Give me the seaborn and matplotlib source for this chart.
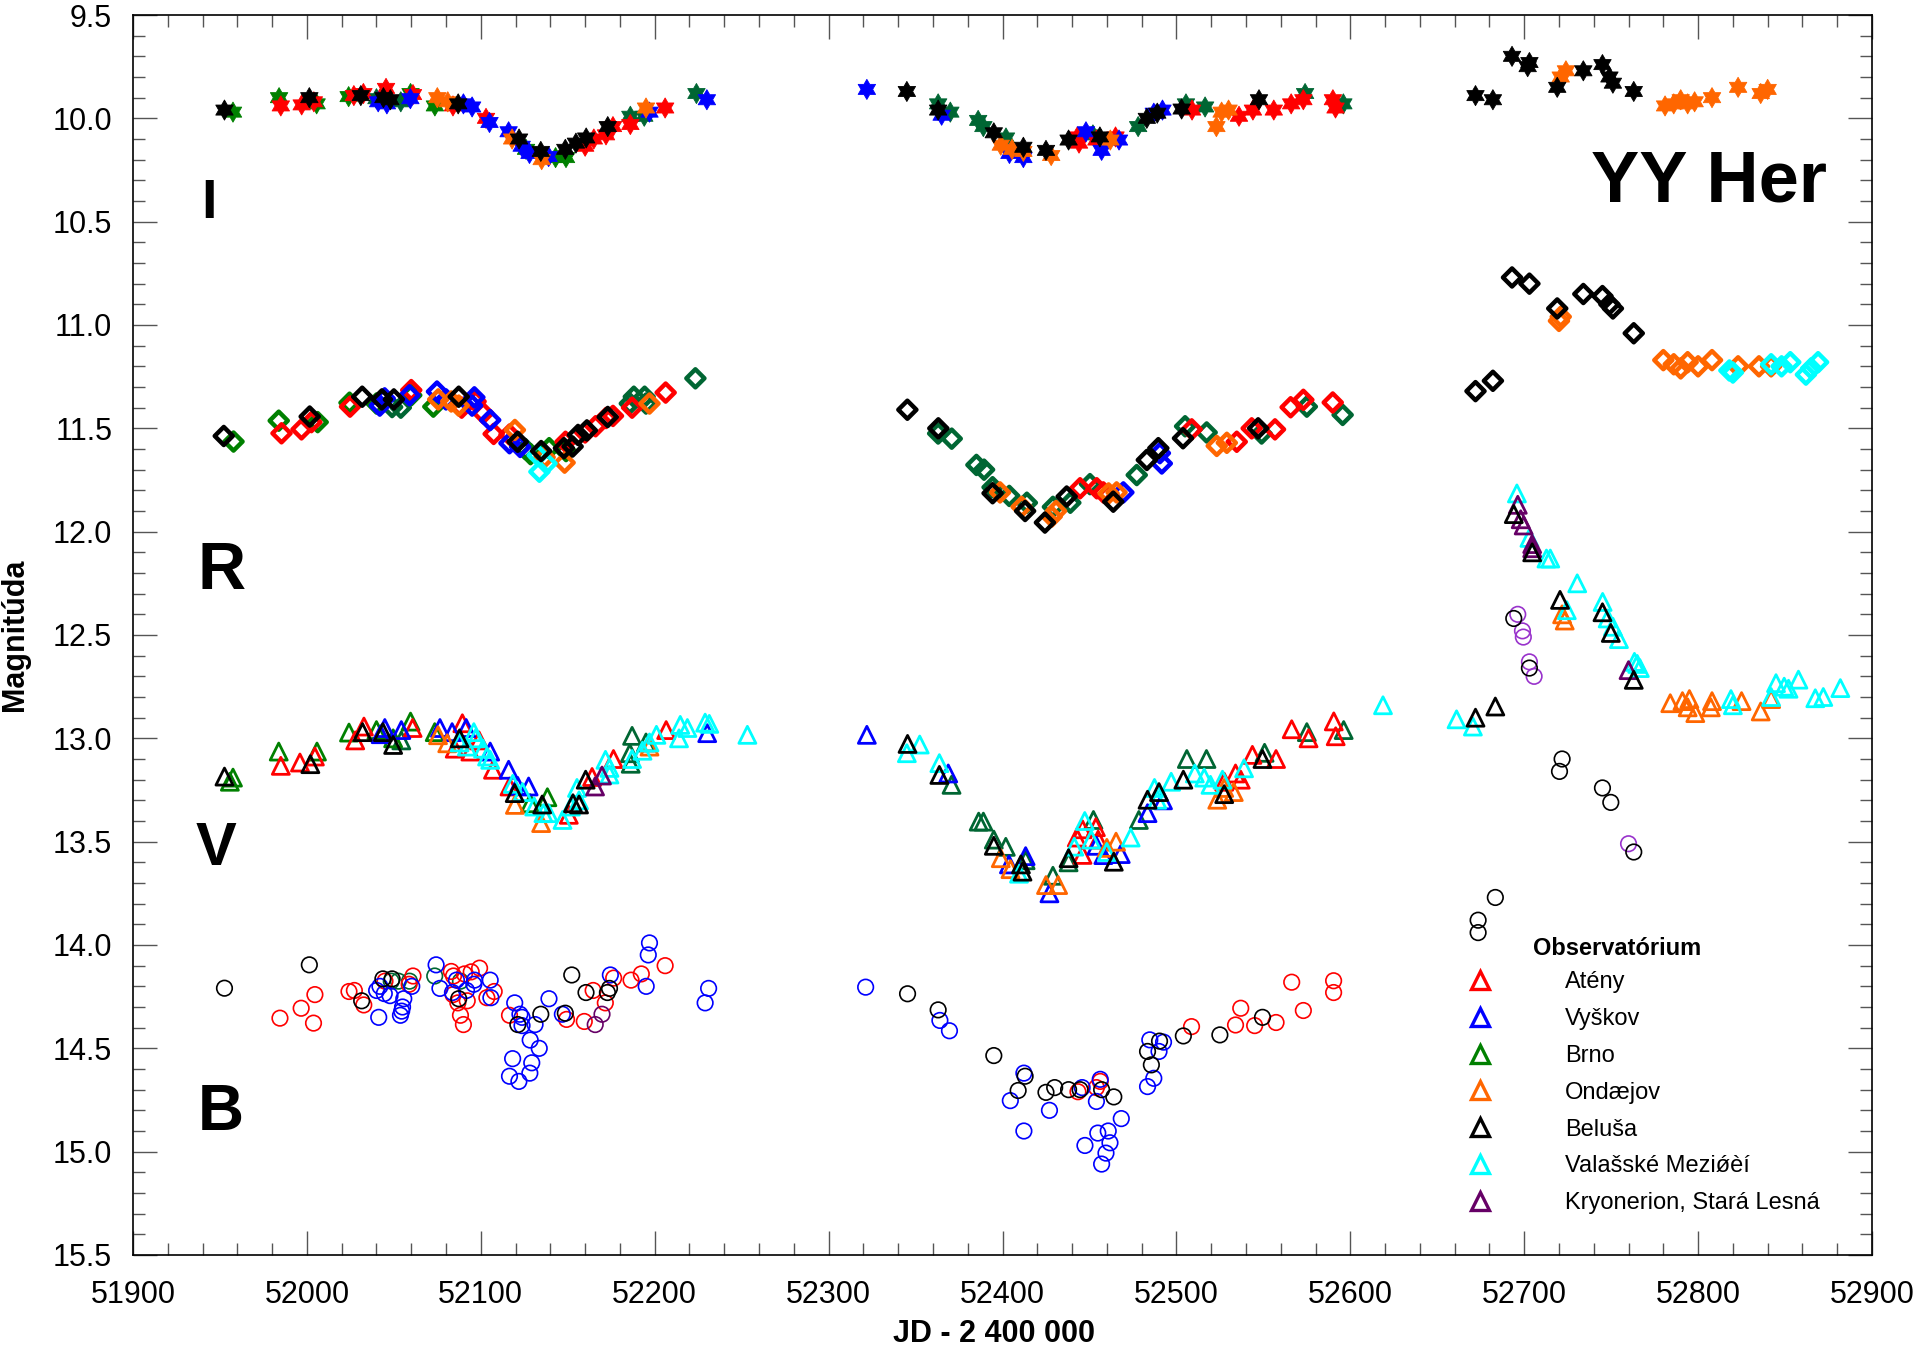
import numpy as np
import pandas as pd
import matplotlib
matplotlib.use("Agg")
import matplotlib.pyplot as plt
from matplotlib.path import Path
from matplotlib.lines import Line2D
from matplotlib.ticker import MultipleLocator, FormatStrFormatter
import seaborn as sns

I_ATENY = [(51985, 9.94), (51997, 9.935), (52004, 9.92), (52027, 9.89), (52032.5, 9.88), (52045.5, 9.855),
           (52061, 9.885), (52084, 9.94), (52103, 10.0), (52160, 10.135), (52165, 10.10), (52172, 10.08),
           (52176, 10.04), (52186, 10.03), (52206, 9.95),
           (52443, 10.09), (52444, 10.12), (52454, 10.105), (52465, 10.09), (52509, 9.96), (52536, 9.99),
           (52544, 9.96), (52556, 9.96), (52566, 9.93), (52573, 9.91), (52590, 9.91), (52591.5, 9.95)]
I_VYSKOV = [(52041, 9.92), (52046, 9.93), (52059.5, 9.905), (52090, 9.93), (52095, 9.945), (52105, 10.02),
            (52116, 10.065), (52123.5, 10.135), (52128, 10.17), (52139, 10.185), (52197, 9.97), (52230, 9.91),
            (52322, 9.86), (52365, 9.985), (52404, 10.17), (52412, 10.19), (52448, 10.065), (52457, 10.155),
            (52467, 10.105), (52487, 9.975), (52492, 9.96)]
I_BRNO = [(51957.5, 9.97), (51984, 9.90), (52005.6, 9.93), (52024, 9.895), (52059.6, 9.88), (52073.6, 9.94),
          (52126, 10.15), (52143, 10.19), (52149, 10.19)]
I_BRNO2 = [(52040, 9.905), (52054, 9.92), (52186, 9.99), (52194, 9.99), (52224, 9.88),
           (52363, 9.93), (52370, 9.97), (52386, 10.01), (52389, 10.04), (52402, 10.095), (52452, 10.08),
           (52478, 10.04), (52505.5, 9.93), (52516.5, 9.945), (52574, 9.88), (52596, 9.93)]
I_ONDREJOV = [(52075, 9.90), (52081, 9.92), (52118, 10.10), (52135, 10.20), (52195, 9.95),
              (52399, 10.13), (52405.5, 10.15), (52412, 10.16), (52428, 10.18), (52462, 10.105), (52523, 10.04),
              (52526, 9.97), (52530, 9.96),
              (52721, 9.80), (52724, 9.77), (52781, 9.94), (52786, 9.93), (52790, 9.91), (52794, 9.93),
              (52798, 9.92), (52808, 9.90), (52823, 9.85), (52836, 9.88), (52840, 9.86)]
I_BELUSA = [(51952.6, 9.96), (52001.4, 9.90), (52031, 9.89), (52044, 9.90), (52048, 9.91), (52087, 9.93),
            (52122, 10.10), (52134.5, 10.16), (52148.6, 10.15), (52154.7, 10.12), (52160.6, 10.095), (52173, 10.04),
            (52345, 9.87), (52363, 9.96), (52395, 10.07), (52412, 10.14), (52425, 10.155), (52438, 10.105),
            (52456, 10.09), (52483, 10.0), (52489, 9.975), (52503, 9.955), (52547.5, 9.91),
            (52672, 9.89), (52682, 9.91), (52693, 9.70), (52703, 9.73), (52702, 9.75), (52719, 9.85),
            (52734, 9.77), (52745, 9.74), (52749, 9.80), (52751, 9.83), (52763, 9.87)]

R_ATENY = [(51985.4, 11.524), (51996.9, 11.505), (52002.6, 11.47), (52024.8, 11.395), (52060, 11.315),
           (52089, 11.40), (52097, 11.37), (52101.4, 11.427), (52107.4, 11.527), (52116.5, 11.53),
           (52148.7, 11.565), (52160, 11.52), (52166, 11.49), (52172, 11.45), (52176, 11.44), (52187, 11.40),
           (52206.3, 11.327),
           (52444.6, 11.79), (52454.2, 11.79), (52458, 11.81), (52508.8, 11.505), (52534.7, 11.565),
           (52543.3, 11.50), (52556.7, 11.505), (52565.7, 11.398), (52573, 11.362), (52589.9, 11.375)]
R_VYSKOV = [(52041.9, 11.39), (52044.7, 11.355), (52059, 11.34), (52074.8, 11.322), (52080, 11.36),
            (52096.3, 11.35), (52095, 11.39), (52105.4, 11.46), (52116.5, 11.572), (52122.6, 11.59),
            (52469.5, 11.81), (52491.6, 11.67), (52490.5, 11.62)]
R_BRNO = [(51957.8, 11.564), (51983.8, 11.463), (52006.2, 11.47), (52024.5, 11.376), (52040, 11.38),
          (52060, 11.34), (52072.7, 11.395), (52128.6, 11.625), (52139.3, 11.596), (52149, 11.61)]
R_BRNO2 = [(52049, 11.397), (52054, 11.40), (52125.6, 11.60), (52185.7, 11.38), (52188, 11.347),
           (52194.2, 11.347), (52195, 11.38), (52223.4, 11.258),
           (52363, 11.525), (52370.8, 11.55), (52385, 11.677), (52389.4, 11.70), (52394.3, 11.785),
           (52403.9, 11.827), (52414, 11.86), (52429, 11.88), (52439, 11.86), (52450.3, 11.77),
           (52477.2, 11.726), (52505, 11.49), (52517.4, 11.52), (52549, 11.525), (52575, 11.395), (52595.6, 11.435)]
R_ONDREJOV = [(52075.5, 11.36), (52083, 11.37), (52087.3, 11.39), (52119.6, 11.508), (52136.7, 11.64),
              (52148.2, 11.666), (52197, 11.38),
              (52398.6, 11.81), (52411, 11.88), (52428.3, 11.927), (52430.8, 11.90), (52461, 11.815),
              (52465.6, 11.81), (52523.2, 11.585), (52529, 11.57),
              (52720, 10.98), (52721, 10.96), (52780, 11.17), (52786, 11.19), (52790, 11.21), (52794, 11.18),
              (52800, 11.20), (52808, 11.17), (52823, 11.20), (52835, 11.20), (52842, 11.20)]
R_BELUSA = [(51952.2, 11.537), (52001.6, 11.443), (52031.8, 11.347), (52043.1, 11.36), (52050, 11.36),
            (52087.3, 11.347), (52121.2, 11.565), (52134.7, 11.61), (52147.8, 11.596), (52152.8, 11.588),
            (52155.9, 11.532), (52161, 11.51), (52173, 11.445),
            (52345.3, 11.41), (52363.1, 11.50), (52394.3, 11.814), (52413, 11.90), (52424.4, 11.956),
            (52436.9, 11.83), (52463.7, 11.855), (52483, 11.653), (52489.6, 11.596), (52503.8, 11.548), (52547, 11.50),
            (52672, 11.32), (52682, 11.27), (52693, 10.77), (52703, 10.80), (52719, 10.92), (52734, 10.85),
            (52745, 10.86), (52749, 10.90), (52751, 10.92), (52763, 11.04)]
R_VALMEZ = [(52132.7, 11.63), (52133.7, 11.71), (52137.8, 11.67),
            (52818, 11.22), (52820, 11.23), (52842, 11.19), (52848, 11.20), (52853, 11.18), (52862, 11.24),
            (52865, 11.21), (52869, 11.18)]

V_ATENY = [(51985, 13.133), (51996, 13.117), (52004.6, 13.088), (52027.8, 13.01), (52032.8, 12.943),
           (52060.8, 12.95), (52085, 13.05), (52089.4, 12.927), (52094, 13.064), (52099, 13.01), (52107, 13.152),
           (52116.5, 13.233), (52150.6, 13.37), (52164, 13.187), (52176.3, 13.10), (52206.6, 12.96),
           (52442.7, 13.48), (52446, 13.44), (52446, 13.564), (52453.7, 13.43), (52455, 13.49), (52527.5, 13.21),
           (52534, 13.17), (52537, 13.20), (52543.7, 13.08), (52557.3, 13.10), (52566.3, 12.956), (52576, 13.0),
           (52590.5, 12.918), (52591.6, 12.99)]
V_VYSKOV = [(52042.4, 12.98), (52044.8, 12.95), (52054.3, 12.96), (52076.5, 12.95), (52083.5, 12.97),
            (52091.6, 12.95), (52105.4, 13.064), (52116, 13.152), (52121.2, 13.23), (52127.5, 13.233),
            (52230.2, 12.975),
            (52322, 12.983), (52368.8, 13.17), (52403.7, 13.61), (52413.3, 13.57), (52427, 13.75), (52454, 13.52),
            (52458, 13.565), (52468, 13.56), (52483.4, 13.362), (52492.3, 13.30)]
V_BRNO = [(51957.5, 13.19), (51955.7, 13.21), (51983.8, 13.064), (52005.8, 13.064), (52024.2, 12.972),
          (52040, 12.96), (52049.6, 13.0), (52059.6, 12.919), (52073.5, 12.97), (52128.4, 13.314), (52138.3, 13.285)]
V_BRNO2 = [(52054.3, 13.01), (52185.7, 13.072), (52186.2, 13.123), (52187, 12.988), (52195, 13.02),
           (52370.7, 13.225), (52386.3, 13.403), (52389, 13.403), (52395, 13.49), (52401.9, 13.525),
           (52413.3, 13.59), (52429, 13.665), (52438, 13.60), (52452.3, 13.395), (52478.4, 13.395), (52506, 13.10),
           (52517.3, 13.10), (52550.7, 13.07), (52575, 12.97), (52596.2, 12.96)]
V_ONDREJOV = [(52075.4, 12.985), (52080.7, 13.024), (52119.6, 13.322), (52134.7, 13.41), (52197, 13.04),
              (52399, 13.58), (52404.6, 13.633), (52425, 13.71), (52432, 13.71), (52460, 13.53), (52465.3, 13.50),
              (52523.5, 13.297), (52527.5, 13.24), (52533, 13.26),
              (52721.8, 12.40), (52723.3, 12.43), (52784, 12.83), (52791, 12.82), (52794, 12.85), (52795, 12.81),
              (52798.4, 12.878), (52807.3, 12.85), (52808, 12.82), (52825, 12.82), (52836, 12.87), (52842, 12.81)]
V_BELUSA = [(51952.6, 13.185), (52002, 13.125), (52032, 12.97), (52043.7, 12.97), (52049.6, 13.032),
            (52087.8, 13.0), (52119.5, 13.265), (52135.3, 13.32), (52153, 13.314), (52156.5, 13.32), (52160.3, 13.20),
            (52345.4, 13.027), (52363.7, 13.177), (52395, 13.52), (52410.6, 13.61), (52411.5, 13.645),
            (52438, 13.58), (52464, 13.597), (52483.4, 13.297), (52490, 13.26), (52504, 13.20), (52527.5, 13.27),
            (52549.5, 13.10),
            (52672, 12.90), (52683.4, 12.846), (52694, 11.915), (52704.6, 12.10), (52720.6, 12.33), (52745, 12.39),
            (52749.8, 12.49), (52763, 12.717)]
V_VALMEZ = [(52087.8, 13.02), (52092, 13.04), (52096, 12.97), (52097, 13.0), (52101.3, 13.05), (52103.6, 13.088),
            (52105.4, 13.104), (52118.4, 13.22), (52124, 13.26), (52130.7, 13.33), (52136, 13.362), (52139, 13.362),
            (52147, 13.395), (52151.8, 13.33), (52155.3, 13.24), (52156.5, 13.30), (52171.7, 13.104),
            (52174, 13.143), (52174, 13.175), (52187, 13.10), (52193, 13.06), (52197, 13.02), (52201, 12.983),
            (52214, 13.00), (52214.7, 12.935), (52218.8, 12.95), (52229, 12.924), (52231.4, 12.93), (52253.3, 12.983),
            (52345, 13.072), (52352.4, 13.03), (52363.7, 13.12), (52409.5, 13.655), (52441.3, 13.524),
            (52447.3, 13.40), (52451, 13.49), (52460, 13.55), (52473.7, 13.48), (52487.4, 13.24), (52489, 13.297),
            (52497, 13.21), (52510.6, 13.17), (52516, 13.19), (52519.6, 13.225), (52526.5, 13.20), (52538.9, 13.145),
            (52618.8, 12.84),
            (52661.1, 12.908), (52670.5, 12.943), (52695.8, 11.815), (52703, 12.03), (52712.8, 12.13),
            (52715, 12.13), (52730.5, 12.25), (52724.5, 12.38), (52745.1, 12.34), (52748, 12.42), (52751, 12.46),
            (52754.5, 12.52), (52763.4, 12.63), (52766.5, 12.66), (52765, 12.64), (52818.9, 12.81), (52820, 12.84),
            (52842, 12.80), (52844.8, 12.733), (52849.5, 12.75), (52852, 12.76), (52857.7, 12.716),
            (52867.4, 12.806), (52872, 12.80), (52881.8, 12.757)]
V_KRYONERION = [(52165.7, 13.233), (52169.7, 13.18), (52696.3, 11.87), (52698, 11.94), (52699.7, 11.97),
                (52704.6, 12.06), (52704.6, 12.08), (52760, 12.67)]

B_ATENY = [(51984.5, 14.354), (51996.7, 14.306), (52003.8, 14.378), (52004.6, 14.24), (52024.2, 14.225),
           (52027.3, 14.22), (52032.7, 14.29), (52044.9, 14.175), (52061, 14.15), (52058.8, 14.19), (52083, 14.128),
           (52084.3, 14.15), (52084, 14.24), (52086.8, 14.28), (52088.3, 14.34), (52090, 14.385), (52090.6, 14.14),
           (52092.2, 14.27), (52094.5, 14.13), (52099.3, 14.112), (52103.5, 14.255), (52107.7, 14.225),
           (52116.5, 14.34), (52149.3, 14.36), (52159.5, 14.37), (52164.6, 14.22), (52171.6, 14.28),
           (52176.4, 14.16), (52186.4, 14.17), (52192.3, 14.14), (52206, 14.10),
           (52443.4, 14.71), (52456.2, 14.66), (52454, 14.69), (52508.7, 14.395), (52534, 14.387),
           (52537, 14.306), (52545, 14.39), (52557.3, 14.375), (52566.3, 14.18), (52573, 14.317),
           (52590.4, 14.173), (52590.4, 14.23)]
B_VYSKOV = [(52040.1, 14.22), (52041.3, 14.35), (52042, 14.20), (52044.5, 14.235), (52047.8, 14.245),
            (52053.8, 14.34), (52054.5, 14.32), (52055, 14.30), (52055.7, 14.26), (52060.3, 14.2), (52074.3, 14.096),
            (52076.5, 14.21), (52083.7, 14.23), (52086, 14.17), (52091.8, 14.22), (52096, 14.19), (52096.4, 14.17),
            (52105.4, 14.17), (52105.8, 14.255), (52116.5, 14.635), (52118.3, 14.55), (52119.5, 14.28),
            (52121.9, 14.66), (52122.5, 14.335), (52123.7, 14.35), (52123.7, 14.39), (52128.2, 14.62),
            (52128.4, 14.46), (52129.3, 14.57), (52131.2, 14.385), (52133.6, 14.50), (52139.2, 14.26),
            (52146.9, 14.335), (52174.5, 14.145), (52195.1, 14.2), (52196.3, 14.048), (52197, 13.99),
            (52229, 14.28), (52231, 14.21),
            (52321.3, 14.204), (52364, 14.365), (52369.5, 14.415), (52404.5, 14.753), (52412.3, 14.62),
            (52412.3, 14.90), (52427, 14.80), (52445.8, 14.69), (52447.4, 14.97), (52454, 14.757), (52454.8, 14.91),
            (52456.2, 14.65), (52457, 15.06), (52459.5, 15.007), (52460.8, 14.90), (52461.8, 14.957),
            (52468.3, 14.84), (52483.4, 14.685), (52484.7, 14.459), (52487, 14.645), (52490, 14.515), (52492.6, 14.47)]
B_BRNO2 = [(52048.5, 14.175), (52052.6, 14.175), (52059, 14.175), (52073.5, 14.15), (52088.3, 14.175)]
B_BELUSA = [(51952.6, 14.209), (52001.4, 14.096), (52031.5, 14.27), (52043.7, 14.164), (52049, 14.164),
            (52087.3, 14.26), (52121.3, 14.385), (52134.5, 14.335), (52148.6, 14.33), (52152.3, 14.145),
            (52160.5, 14.23), (52172.8, 14.23), (52174, 14.21),
            (52345.4, 14.236), (52363, 14.314), (52395, 14.535), (52409, 14.704), (52413, 14.635), (52425, 14.713),
            (52430, 14.69), (52438, 14.70), (52444.6, 14.70), (52457, 14.70), (52464, 14.735), (52483.4, 14.515),
            (52485.6, 14.58), (52490.3, 14.465), (52504, 14.44), (52525, 14.435), (52549.5, 14.35),
            (52673.5, 13.88), (52673.5, 13.94), (52683.4, 13.77), (52694, 12.42), (52703, 12.66),
            (52721.8, 13.10), (52720.3, 13.16), (52745, 13.24), (52749.8, 13.31), (52763, 13.55)]
B_KRYONERION = [(52165.8, 14.385), (52169.7, 14.335)]
B_VIOLET = [(52696.3, 12.40), (52699, 12.48), (52699.5, 12.51), (52703, 12.63), (52705.7, 12.70), (52760, 13.51)]

LEGEND_NAMES = ["Atény", "Vyškov", "Brno", "Ondæjov", "Beluša", "Valašské Meziǿèí", "Kryonerion, Stará Lesná"]

palette = {
    "Atény": "#ff0000",
    "Vyškov": "#0000ff",
    "Brno": "#008000",
    "Brno2": "#006633",
    "Ondæjov": "#ff6600",
    "Beluša": "#000000",
    "Valašské Meziǿèí": "#00ffff",
    "Kryonerion, Stará Lesná": "#660066",
    "violet": "#9933cc",
}

# drawing order inside each band (later on top)
series = {
    "I": [("Brno2", I_BRNO2), ("Brno", I_BRNO), ("Atény", I_ATENY), ("Vyškov", I_VYSKOV),
          ("Ondæjov", I_ONDREJOV), ("Beluša", I_BELUSA)],
    "R": [("Brno2", R_BRNO2), ("Brno", R_BRNO), ("Atény", R_ATENY), ("Vyškov", R_VYSKOV),
          ("Ondæjov", R_ONDREJOV), ("Valašské Meziǿèí", R_VALMEZ), ("Beluša", R_BELUSA)],
    "V": [("Brno2", V_BRNO2), ("Brno", V_BRNO), ("Atény", V_ATENY), ("Vyškov", V_VYSKOV),
          ("Ondæjov", V_ONDREJOV), ("Valašské Meziǿèí", V_VALMEZ), ("Kryonerion, Stará Lesná", V_KRYONERION),
          ("Beluša", V_BELUSA)],
    "B": [("Brno2", B_BRNO2), ("Atény", B_ATENY), ("Vyškov", B_VYSKOV), ("Kryonerion, Stará Lesná", B_KRYONERION),
          ("violet", B_VIOLET), ("Beluša", B_BELUSA)],
}

frames = []
for band, groups in series.items():
    for obs, pts in groups:
        d = pd.DataFrame(pts, columns=["jd", "mag"])
        d["band"] = band
        d["obs"] = obs
        frames.append(d)
df = pd.concat(frames, ignore_index=True)

hexagram = Path.unit_regular_star(6, 0.577)
band_style = {
    "I": dict(marker=hexagram, s=210, linewidth=0.6, filled=True),
    "R": dict(marker="D", s=85, linewidth=3.2, filled=False),
    "V": dict(marker="^", s=150, linewidth=2.0, filled=False),
    "B": dict(marker="o", s=125, linewidth=1.2, filled=False),
}

sns.set_style("ticks")
plt.rcParams["font.family"] = ["Liberation Sans", "DejaVu Sans"]
plt.rcParams["text.color"] = "black"
plt.rcParams["axes.labelcolor"] = "black"

fig = plt.figure(figsize=(19.15, 13.52), dpi=100)
ax = fig.add_axes([133 / 1915, 1 - 1255 / 1352, 1739 / 1915, 1240 / 1352])

for band in ["B", "V", "R", "I"]:
    st = band_style[band]
    sub = df[df["band"] == band]
    sns.scatterplot(data=sub, x="jd", y="mag", hue="obs", palette=palette, marker=st["marker"],
                    s=st["s"], linewidth=st["linewidth"], legend=False, ax=ax)
    coll = ax.collections[-1]
    fc = coll.get_facecolors()
    coll.set_edgecolors(fc)
    if not st["filled"]:
        coll.set_facecolors("none")

ax.set_xlim(51900, 52900)
ax.set_ylim(15.5, 9.5)
ax.xaxis.set_major_locator(MultipleLocator(100))
ax.xaxis.set_minor_locator(MultipleLocator(20))
ax.yaxis.set_major_locator(MultipleLocator(0.5))
ax.yaxis.set_minor_locator(MultipleLocator(0.1))
ax.yaxis.set_major_formatter(FormatStrFormatter("%.1f"))
ax.tick_params(which="both", direction="in", top=True, right=True, color="#555555", width=1.0,
               labelcolor="black")
ax.tick_params(which="major", length=17, labelsize=22)
ax.tick_params(which="minor", length=8.5)
ax.tick_params(axis="y", which="major", pad=15)
ax.tick_params(axis="x", which="major", pad=18)
for sp in ax.spines.values():
    sp.set_linewidth(1.2)
    sp.set_color("black")

ax.set_xlabel("JD - 2 400 000", fontsize=22, fontweight="bold", color="black")
ax.set_ylabel("Magnitúda", fontsize=22, fontweight="bold", color="black")
ax.xaxis.set_label_coords(0.495, -0.052)
ax.yaxis.set_label_coords(-0.059, 0.5)

# band labels
ax.text(51939, 10.482, "I", fontsize=40, fontweight="bold", ha="left", va="baseline", color="black")
ax.text(51937, 12.277, "R", fontsize=48, fontweight="bold", ha="left", va="baseline", color="black")
ax.text(51936, 13.612, "V", fontsize=44, fontweight="bold", ha="left", va="baseline", color="black")
ax.text(51937, 14.894, "B", fontsize=46, fontweight="bold", ha="left", va="baseline", color="black")
ax.text(52806, 10.40, "YY Her", fontsize=52, fontweight="bold", ha="center", va="baseline", color="black",
        family=["Liberation Sans Narrow", "Liberation Sans", "DejaVu Sans"])

handles = [Line2D([], [], linestyle="none", marker="^", markersize=13, markerfacecolor="none",
                  markeredgecolor=palette[n], markeredgewidth=2.4) for n in LEGEND_NAMES]
leg = ax.legend(handles, LEGEND_NAMES, loc="upper left", bbox_to_anchor=(0.7677, 0.229),
                frameon=False, handlelength=1.0, handletextpad=3.1,
                labelspacing=0.63, borderpad=0, borderaxespad=0,
                prop={"family": ["Liberation Sans", "DejaVu Sans"], "size": 17})
for t in leg.get_texts():
    t.set_color("black")
ax.text(0.805, 0.2468, "Observatórium", transform=ax.transAxes, fontsize=17, fontweight="bold",
        ha="left", va="center", color="black")

fig.savefig("out.png", dpi=100)
